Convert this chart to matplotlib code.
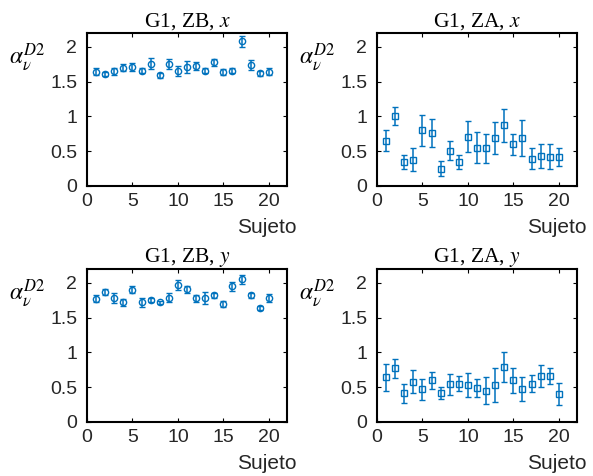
import matplotlib
matplotlib.use("Agg")
import matplotlib.pyplot as plt
import numpy as np

plt.rcParams['mathtext.fontset'] = 'stix'

subjects = list(range(1, 21))

zb_x_mean = [1.64, 1.61, 1.65, 1.70, 1.71, 1.66, 1.76, 1.59, 1.75, 1.65,
             1.71, 1.73, 1.66, 1.78, 1.64, 1.66, 2.08, 1.74, 1.62, 1.64]
zb_x_err = [0.05, 0.03, 0.05, 0.05, 0.06, 0.04, 0.08, 0.03, 0.07, 0.07,
            0.09, 0.06, 0.04, 0.05, 0.04, 0.04, 0.08, 0.07, 0.04, 0.05]

za_x_mean = [0.65, 1.00, 0.35, 0.38, 0.80, 0.76, 0.25, 0.51, 0.35, 0.71,
             0.55, 0.54, 0.69, 0.87, 0.60, 0.69, 0.39, 0.43, 0.42, 0.42]
za_x_err = [0.15, 0.13, 0.10, 0.16, 0.22, 0.20, 0.11, 0.13, 0.10, 0.22,
            0.22, 0.21, 0.23, 0.24, 0.15, 0.26, 0.15, 0.17, 0.18, 0.13]

zb_y_mean = [1.77, 1.87, 1.78, 1.72, 1.90, 1.72, 1.75, 1.72, 1.79, 1.97,
             1.91, 1.78, 1.78, 1.82, 1.70, 1.95, 2.05, 1.82, 1.64, 1.78]
zb_y_err = [0.05, 0.04, 0.07, 0.05, 0.05, 0.06, 0.03, 0.02, 0.06, 0.07,
            0.05, 0.05, 0.09, 0.03, 0.04, 0.07, 0.06, 0.03, 0.03, 0.06]

za_y_mean = [0.64, 0.77, 0.41, 0.58, 0.47, 0.60, 0.42, 0.54, 0.55, 0.53,
             0.49, 0.45, 0.53, 0.79, 0.60, 0.47, 0.55, 0.66, 0.66, 0.40]
za_y_err = [0.19, 0.14, 0.13, 0.17, 0.15, 0.12, 0.09, 0.15, 0.11, 0.17,
            0.13, 0.19, 0.24, 0.21, 0.18, 0.17, 0.12, 0.16, 0.12, 0.16]

x_ticks = [0, 5, 10, 15, 20]
y_ticks = [0, 0.5, 1, 1.5, 2]
y_tick_labels = ['0', '0.5', '1', '1.5', '2']

panels = [
    ('ZB', 'x', zb_x_mean, zb_x_err, 'o'),
    ('ZA', 'x', za_x_mean, za_x_err, 's'),
    ('ZB', 'y', zb_y_mean, zb_y_err, 'o'),
    ('ZA', 'y', za_y_mean, za_y_err, 's'),
]

color = '#0072BD'
W, H = 593, 476
fig = plt.figure(figsize=(W / 100, H / 100), dpi=100)

lefts = [87, 377]
tops = [33, 269]
aw, ah = 200, 153

for i, (zone, comp, mean, err, mk) in enumerate(panels):
    r, c = divmod(i, 2)
    l = lefts[c]
    t = tops[r]
    ax = fig.add_axes([l / W, 1 - (t + ah) / H, aw / W, ah / H])
    ax.errorbar(subjects, mean, yerr=err, fmt=mk, color=color, ms=4.5,
                mfc='none', mec=color, mew=1.0, elinewidth=1.1,
                capsize=2.2, capthick=1.0)
    ax.set_xlim(0, 22)
    ax.set_ylim(0, 2.2)
    ax.set_xticks(x_ticks)
    ax.set_yticks(y_ticks)
    ax.set_yticklabels(y_tick_labels)
    ax.tick_params(direction='in', length=3, width=0.8, top=True, right=True,
                   labelsize=14, pad=5)
    ax.tick_params(axis='y', pad=7)
    for lab in ax.get_xticklabels() + ax.get_yticklabels():
        lab.set_fontfamily('Liberation Sans')
        lab.set_color('#262626')
    for s in ax.spines.values():
        s.set_linewidth(1.5)
    ax.set_title(r'G1, %s, $%s$' % (zone, comp), fontfamily='Liberation Serif',
                 fontsize=15.5, pad=5)
    ax.text(-0.30, 0.84, r'$\alpha_{\nu}^{D2}$', transform=ax.transAxes,
            ha='center', va='center', fontsize=17)
    ax.text(1.05, -0.305, 'Sujeto', transform=ax.transAxes, ha='right',
            va='baseline', fontsize=15, fontfamily='Liberation Sans',
            color='#262626')

fig.savefig('out.png', dpi=100)
